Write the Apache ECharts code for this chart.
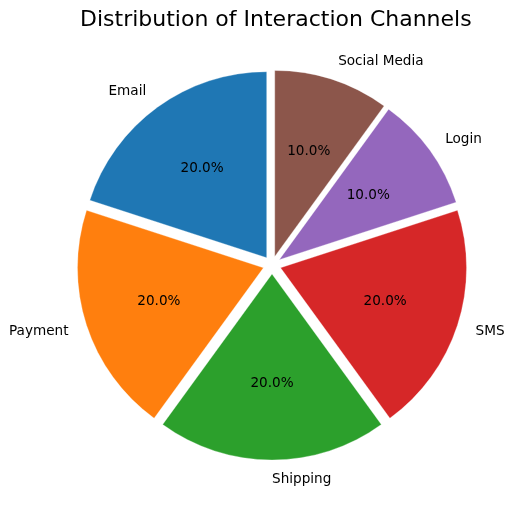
<!DOCTYPE html>
<html>
<head>
<meta charset="utf-8">
<script src="https://cdn.jsdelivr.net/npm/echarts@6/dist/echarts.min.js"></script>
<style>
  html, body { margin: 0; padding: 0; background: #fff; }
  #chart { width: 514px; height: 506px; }
</style>
</head>
<body>
<div id="chart"></div>
<script>
var channels = ['Email', 'Payment', 'Shipping', 'SMS', 'Login', 'Social Media'];
var shares = [20, 20, 20, 20, 10, 10];
var colors = ['#1f77b4', '#ff7f0e', '#2ca02c', '#d62728', '#9467bd', '#8c564b'];

var chart = echarts.init(document.getElementById('chart'));

var R = 186;
var center = [272, 265];
var explode = 9;

function items() {
  return channels.map(function (name, i) {
    return { name: name, value: shares[i], selected: true };
  });
}

var option = {
  animation: false,
  color: colors,
  title: {
    text: 'Distribution of Interaction Channels',
    left: 75,
    top: 4,
    textStyle: { fontFamily: 'DejaVu Sans', fontSize: 22, fontWeight: 'normal', color: '#000' }
  },
  series: [
    {
      type: 'pie',
      center: center,
      radius: [0, R],
      startAngle: 90,
      clockwise: false,
      selectedMode: 'multiple',
      selectedOffset: explode,
      avoidLabelOverlap: false,
      itemStyle: { borderColor: 'rgba(255,255,255,0.6)', borderWidth: 0.5 },
      label: {
        show: true,
        position: 'outside',
        distanceToLabelLine: 0,
        fontFamily: 'DejaVu Sans',
        fontSize: 13.6,
        color: '#000'
      },
      labelLine: { show: false, length: 19, length2: 0 },
      emphasis: { disabled: true },
      select: { itemStyle: { borderColor: 'rgba(255,255,255,0.6)', borderWidth: 0.5 } },
      data: items()
    },
    {
      type: 'pie',
      center: center,
      radius: [0, R * 1.15],
      startAngle: 90,
      clockwise: false,
      selectedMode: 'multiple',
      selectedOffset: explode,
      silent: true,
      avoidLabelOverlap: false,
      itemStyle: { color: 'rgba(0,0,0,0)' },
      select: { itemStyle: { color: 'rgba(0,0,0,0)', borderWidth: 0 } },
      label: {
        show: true,
        position: 'inside',
        fontFamily: 'DejaVu Sans',
        fontSize: 13.6,
        color: '#000',
        formatter: function (p) { return p.percent.toFixed(1) + '%'; }
      },
      labelLine: { show: false },
      data: items()
    }
  ]
};
chart.setOption(option);
</script>
</body>
</html>
